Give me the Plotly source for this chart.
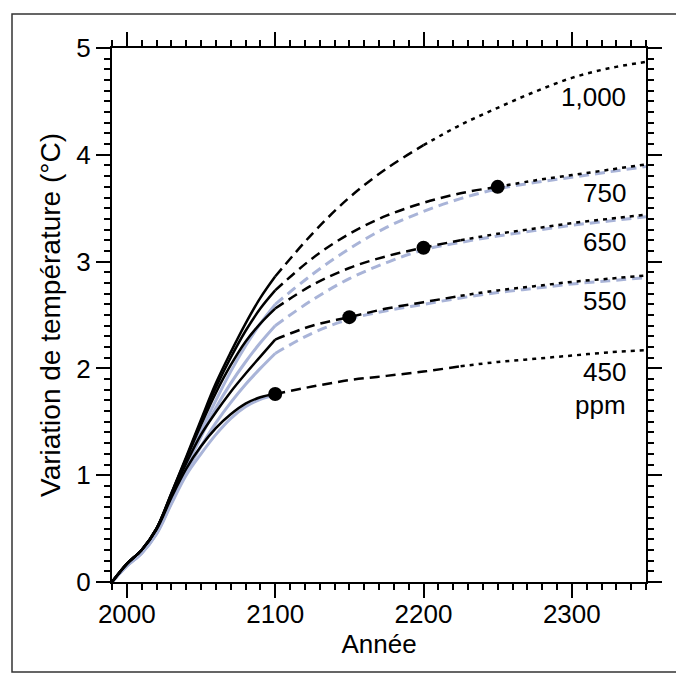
import plotly.graph_objects as go

# annees et temperatures
annees_hist = [1990, 2000, 2010, 2020, 2030, 2040, 2050, 2060, 2070, 2080, 2090, 2100]
annees_fut = [2100, 2125, 2150, 2175, 2200, 2225, 2250, 2275, 2300, 2325, 2350]

# profils noirs (jusqu'a 2100)
noir_450 = [0, 0.17, 0.30, 0.49, 0.79, 1.06, 1.27, 1.44, 1.57, 1.67, 1.73, 1.76]
noir_550 = [0, 0.17, 0.30, 0.50, 0.81, 1.11, 1.38, 1.59, 1.78, 1.95, 2.11, 2.27]
noir_650 = [0, 0.17, 0.30, 0.50, 0.82, 1.15, 1.47, 1.77, 2.03, 2.25, 2.42, 2.56]
noir_750 = [0, 0.17, 0.30, 0.50, 0.83, 1.16, 1.50, 1.82, 2.10, 2.35, 2.56, 2.73]
noir_1000 = [0, 0.17, 0.30, 0.50, 0.83, 1.17, 1.52, 1.86, 2.15, 2.42, 2.66, 2.86]

# profils bleus (jusqu'a 2100)
bleu_450 = [0, 0.15, 0.27, 0.45, 0.73, 1.00, 1.20, 1.38, 1.53, 1.64, 1.71, 1.75]
bleu_550 = [0, 0.15, 0.27, 0.45, 0.74, 1.03, 1.27, 1.49, 1.68, 1.85, 2.00, 2.14]
bleu_650 = [0, 0.15, 0.27, 0.46, 0.76, 1.07, 1.36, 1.63, 1.86, 2.06, 2.24, 2.40]
bleu_750 = [0, 0.15, 0.28, 0.47, 0.78, 1.10, 1.41, 1.70, 1.97, 2.21, 2.42, 2.60]

# suites apres 2100
noir_450_fut = [1.76, 1.83, 1.89, 1.93, 1.97, 2.02, 2.06, 2.09, 2.12, 2.15, 2.17]
noir_550_fut = [2.27, 2.40, 2.48, 2.56, 2.62, 2.68, 2.73, 2.77, 2.81, 2.84, 2.87]
noir_650_fut = [2.56, 2.78, 2.94, 3.05, 3.13, 3.20, 3.26, 3.31, 3.36, 3.40, 3.44]
noir_750_fut = [2.73, 3.03, 3.26, 3.43, 3.55, 3.64, 3.70, 3.76, 3.81, 3.86, 3.91]
noir_1000_fut = [2.86, 3.26, 3.60, 3.87, 4.09, 4.28, 4.44, 4.59, 4.72, 4.81, 4.87]

bleu_550_fut = [2.14, 2.33, 2.46, 2.54, 2.60, 2.66, 2.71, 2.75, 2.79, 2.82, 2.85]
bleu_650_fut = [2.40, 2.64, 2.84, 2.99, 3.11, 3.18, 3.24, 3.29, 3.34, 3.38, 3.42]
bleu_750_fut = [2.60, 2.88, 3.12, 3.32, 3.47, 3.59, 3.68, 3.74, 3.79, 3.84, 3.89]

# annee de passage tirets -> pointilles (index dans annees_fut)
fin_tirets = {"450": 5, "550": 5, "650": 5, "750": 6, "1000": 4}

stab_annees = [2100, 2150, 2200, 2250]
stab_temp = [1.76, 2.48, 3.13, 3.70]

etiquettes = ["1,000", "750", "650", "550", "450", "ppm"]
etiq_y = [4.54, 3.64, 3.18, 2.63, 1.97, 1.66]

NOIR = "black"
BLEU = "#a9b4d8"

fig = go.Figure()

def trace(x, y, couleur, largeur, dash="solid"):
    fig.add_trace(go.Scatter(x=x, y=y, mode="lines", line_shape="spline",
                             line=dict(color=couleur, width=largeur, dash=dash),
                             showlegend=False, hoverinfo="skip"))

# bleu d'abord (dessous)
for y in [bleu_450, bleu_550, bleu_650, bleu_750]:
    trace(annees_hist, y, BLEU, 3)
for y in [bleu_550_fut, bleu_650_fut, bleu_750_fut]:
    trace(annees_fut, y, BLEU, 3, "10px,6px")

for y in [noir_450, noir_550, noir_650, noir_750, noir_1000]:
    trace(annees_hist, y, NOIR, 2.5)

futurs = {"450": noir_450_fut, "550": noir_550_fut, "650": noir_650_fut,
          "750": noir_750_fut, "1000": noir_1000_fut}
for k, y in futurs.items():
    i = fin_tirets[k]
    trace(annees_fut[:i + 1], y[:i + 1], NOIR, 2.5, "10px,6px")
    trace(annees_fut[i:], y[i:], NOIR, 2.5, "4px,5px")

fig.add_trace(go.Scatter(x=stab_annees, y=stab_temp, mode="markers",
                         marker=dict(color=NOIR, size=14), showlegend=False,
                         hoverinfo="skip"))

for txt, y in zip(etiquettes, etiq_y):
    fig.add_annotation(x=2338, y=y, text=txt, showarrow=False, xanchor="right",
                       yanchor="middle", font=dict(size=26, color="black"))

# la page ajoute 8 px de marge, on compense
L, R, T, B = 104, 638, 40, 574
LARG, HAUT = 676, 672
W, H = R - L, B - T
fig.add_shape(type="rect", xref="paper", yref="paper",
              x0=(4 - L) / W, x1=(674 - L) / W,
              y0=(B - 664) / H, y1=(B - 6) / H,
              line=dict(color="#333333", width=1.5))

axe = dict(showgrid=False, zeroline=False, showline=True, linecolor="black",
           linewidth=2, mirror="ticks", ticks="outside", ticklen=14, tickwidth=1.5,
           tickcolor="black", tickfont=dict(size=26, color="black"))

fig.update_xaxes(range=[1990, 2350], tick0=2000, dtick=100, ticklabelstandoff=-6,
                 minor=dict(ticks="outside", ticklen=6, tickwidth=1.5,
                            tickcolor="black", dtick=10, tick0=2000),
                 title=dict(text="Année", font=dict(size=26, color="black"), standoff=0),
                 **axe)
fig.update_yaxes(range=[0, 5], dtick=1,
                 minor=dict(ticks="outside", ticklen=6, tickwidth=1.5,
                            tickcolor="black", dtick=0.1),
                 title=dict(text="Variation de température (°C)",
                            font=dict(size=28, color="black"), standoff=8),
                 **axe)

fig.update_layout(width=LARG, height=HAUT, plot_bgcolor="white", paper_bgcolor="white",
                  margin=dict(l=L, r=LARG - R, t=T, b=HAUT - B, autoexpand=False),
                  font=dict(family="Liberation Sans, Arial, sans-serif", color="black"))

fig.write_html("out.html")
